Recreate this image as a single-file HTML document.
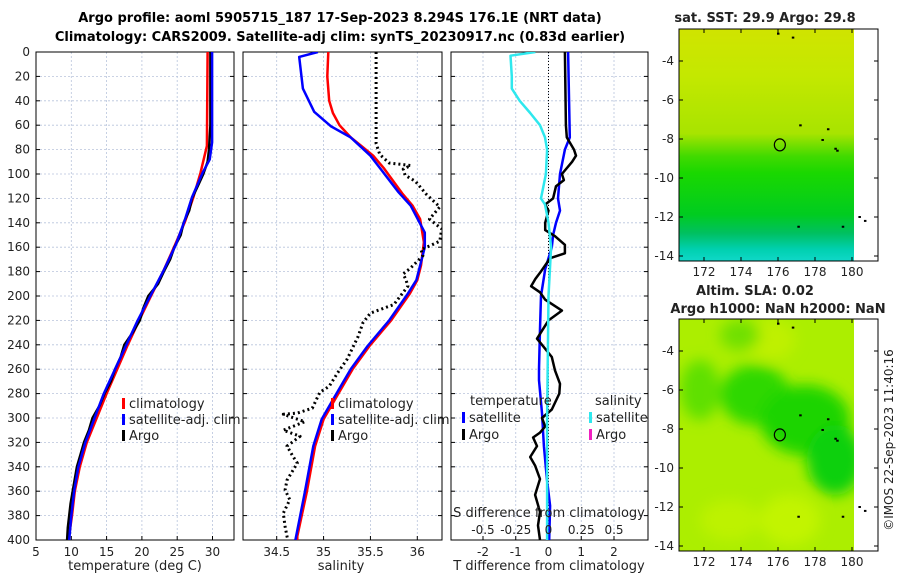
<!DOCTYPE html>
<html><head><meta charset="utf-8"><style>
body{margin:0;background:#fff;}
svg{display:block;font-family:"DejaVu Sans","Liberation Sans",sans-serif;}
</style></head><body>
<svg id="c" width="900" height="580" viewBox="0 0 900 580">
<defs>
<linearGradient id="sstg" x1="0" y1="0" x2="0" y2="1">
<stop offset="0" stop-color="#d0e400"/><stop offset="0.2" stop-color="#c4e800"/>
<stop offset="0.45" stop-color="#a8e400"/><stop offset="0.55" stop-color="#40da00"/>
<stop offset="0.62" stop-color="#1ad800"/><stop offset="0.8" stop-color="#00cc20"/>
<stop offset="0.88" stop-color="#00c060"/><stop offset="0.95" stop-color="#00d0b0"/>
<stop offset="1" stop-color="#10d8c8"/></linearGradient>
<filter id="bl" x="-50%" y="-50%" width="200%" height="200%"><feGaussianBlur stdDeviation="7"/></filter>
<clipPath id="m1c"><rect x="679" y="29" width="175" height="232"/></clipPath>
<clipPath id="m2c"><rect x="679" y="319" width="175" height="232"/></clipPath>
</defs>
<text x="340" y="22" text-anchor="middle" font-size="13" font-weight="bold">Argo profile: aoml 5905715_187 17-Sep-2023 8.294S 176.1E (NRT data)</text>
<text x="340" y="41" text-anchor="middle" font-size="13" font-weight="bold">Climatology: CARS2009. Satellite-adj clim: synTS_20230917.nc (0.83d earlier)</text>
<g id="g"></g>
<text transform="translate(893,440) rotate(-90)" text-anchor="middle" font-size="12" fill="#222">©IMOS 22-Sep-2023 11:40:16</text>
</svg>
<script>
const tClimDepths=[0,77,99,119,139,158,180,201,220,240,260,280,300,320,340,360,380,400];
const tClim=[29.3,29.2,28.3,27.3,26.1,24.7,23.0,21.2,19.6,18.0,16.5,15.0,13.6,12.2,11.2,10.5,10.1,9.6];
const tSatDepths=[0,74,88,99,119,139,158,180,201,220,240,260,280,300,320,340,360,380,400];
const tSat=[29.95,29.95,29.6,28.6,27.1,26.0,24.8,23.0,21.1,19.4,17.8,16.2,14.6,13.3,12.0,11.0,10.4,10.0,9.7];
const tArgoDepths=[0,60,80,90,100,110,120,130,140,150,160,170,180,190,200,210,220,230,240,250,260,270,280,290,300,310,320,330,340,350,360,370,380,390,400];
const tArgo=[29.7,29.7,29.5,29.3,28.7,27.9,27.1,26.7,25.9,25.5,24.6,24.0,23.1,22.3,20.9,20.2,19.7,18.7,17.5,17.0,16.2,15.6,14.7,14.0,13.0,12.5,11.8,11.3,10.8,10.5,10.2,9.9,9.7,9.5,9.4];
const sClimDepths=[0,20,40,50,60,70,78,85,95,116,126,137,156,175,187,198,220,241,260,285,301,323,361,397,400];
const sClim=[35.05,35.04,35.06,35.1,35.17,35.29,35.42,35.53,35.64,35.84,35.95,36.03,36.07,36.04,36.0,35.92,35.72,35.49,35.31,35.12,35.0,34.91,34.82,34.72,34.72];
const sSatDepths=[0,4,30,49,61,70,85,115,126,148,160,175,187,198,220,241,260,285,301,323,361,400];
const sSat=[34.94,34.74,34.78,34.9,35.08,35.29,35.5,35.8,35.93,36.08,36.08,36.03,35.99,35.9,35.7,35.47,35.29,35.1,34.98,34.89,34.8,34.7];
const sArgoDepths=[0,75,84,91,93,96,101,106,117,127,137,145,155,159,162,167,177,182,187,192,207,214,222,233,252,263,274,279,292,296,297,303,310,315,323,331,337,351,359,367,378,389,397,400];
const sArgo=[35.56,35.56,35.6,35.7,35.93,35.85,35.87,35.98,36.1,36.24,36.13,36.26,36.24,36.13,36.04,36.06,35.93,35.85,35.88,35.9,35.75,35.5,35.42,35.37,35.25,35.15,35.06,34.96,34.88,34.72,34.57,34.8,34.57,34.75,34.61,34.67,34.72,34.61,34.59,34.64,34.57,34.59,34.61,34.62];
const dTSatDepths=[0,70,80,100,120,130,140,150,160,178,200,227,260,269,296,323,350,372,400];
const dTSat=[0.6,0.65,0.5,0.35,0.29,0.35,0.23,0.14,0.1,-0.1,-0.23,-0.26,-0.29,-0.29,-0.2,-0.14,-0.05,0.05,0.02];
const dTArgoDepths=[0,60,70,80,85,90,100,105,110,120,125,130,140,146,151,158,165,169,181,186,192,197,203,212,220,226,235,239,250,261,272,280,293,300,307,312,316,323,332,339,350,363,377,388,400];
const dTArgo=[0.5,0.53,0.56,0.78,0.84,0.72,0.41,0.47,0.23,0.14,-0.1,0,-0.1,-0.1,0.2,0.5,0.5,0.05,-0.26,-0.4,-0.53,-0.26,-0.1,0.41,0,-0.14,-0.35,-0.23,0.1,0.2,0.35,0.33,0.1,-0.2,-0.1,-0.26,-0.47,-0.35,-0.56,-0.41,-0.26,-0.41,-0.26,-0.32,-0.26];
const dSSatDepths=[0,3,20,30,40,50,60,70,80,100,120,125,140,160,200,300,400];
const dSSat=[-0.10,-0.29,-0.28,-0.28,-0.22,-0.14,-0.065,-0.027,-0.011,-0.02,-0.057,-0.027,0,0.02,0,-0.011,-0.011];
const depthTicks=[0,20,40,60,80,100,120,140,160,180,200,220,240,260,280,300,320,340,360,380,400];
const tTicks=[5,10,15,20,25,30];
const sTicks=[34.5,35,35.5,36];
const dTTicks=[-2,-1,0,1,2];
const dSTicks=[-0.5,-0.25,0,0.25,0.5];
const lonTicks=[172,174,176,178,180];
const latTicks=[-4,-6,-8,-10,-12,-14];
const argoPos=[176.1,-8.3];
const islands=[[176.0,-2.6],[176.8,-2.8],[177.2,-7.3],[178.7,-7.5],[178.4,-8.05],[179.1,-8.5],[179.2,-8.6],[177.1,-12.5],[179.5,-12.5],[180.4,-12.0],[180.7,-12.2]];

const NS='http://www.w3.org/2000/svg';
const G=document.getElementById('g');
function el(t,a,p){const e=document.createElementNS(NS,t);for(const k in a)e.setAttribute(k,a[k]);(p||G).appendChild(e);return e;}
function txt(x,y,s,a){const e=el('text',Object.assign({x:x,y:y,'font-size':12,fill:'#222'},a||{}));e.textContent=s;return e;}
const Y0=52,Y1=540;
const yD=d=>Y0+(d/400)*(Y1-Y0);
function lin(d0,d1,p0,p1){return v=>p0+(v-d0)/(d1-d0)*(p1-p0);}
const P1={x0:36,x1:234},P2={x0:243,x1:442},P3={x0:451,x1:648};
const xT=lin(5,30,36,212.5), xS=lin(34.5,36,276.7,417.3), xDT=lin(-2,2,483,614), xDS=v=>xDT(v*4);

function frame(P,name,xt,xf,labels){
  const f=el('g',{});
  
  
  xt.forEach(v=>{const x=xf(v);
    const gl=el('line',{x1:x,x2:x,y1:Y0,y2:Y1,stroke:'#b8c4dc','stroke-width':0.8,'stroke-dasharray':'2,2'},f);
    
    el('line',{x1:x,x2:x,y1:Y1,y2:Y1-4,stroke:'#000'},f);
    if(labels){const t=txt(x,556,String(v),{'text-anchor':'middle'});f.appendChild(t);}
  });
  depthTicks.forEach(d=>{const y=yD(d);
    const gl=el('line',{x1:P.x0,x2:P.x1,y1:y,y2:y,stroke:'#b8c4dc','stroke-width':0.8,'stroke-dasharray':'2,2'},f);
    
    el('line',{x1:P.x0,x2:P.x0+4,y1:y,y2:y,stroke:'#000'},f);
    el('line',{x1:P.x1,x2:P.x1-4,y1:y,y2:y,stroke:'#000'},f);
  });
  el('rect',{x:P.x0,y:Y0,width:P.x1-P.x0,height:Y1-Y0,fill:'none',stroke:'#000','stroke-width':1},f);
}
function line(ds,vs,xf,attrs,name){
  const p=el('polyline',Object.assign({points:ds.map((d,i)=>xf(vs[i]).toFixed(1)+','+yD(d).toFixed(1)).join(' '),fill:'none','stroke-linejoin':'round'},attrs));
  
  
  return p;
}
function clipped(P,id){const c=el('clipPath',{id:id});el('rect',{x:P.x0,y:Y0,width:P.x1-P.x0,height:Y1-Y0},c);}
clipped(P1,'cp1');clipped(P2,'cp2');clipped(P3,'cp3');

// panel 1
frame(P1,'temperature-panel',tTicks,xT,true);
depthTicks.forEach(d=>{const t=txt(30,yD(d)+4,String(d),{'text-anchor':'end'});});
line(tClimDepths,tClim,xT,{stroke:'#f00','stroke-width':2.5,'clip-path':'url(#cp1)'},'temperature-climatology-line');
line(tArgoDepths,tArgo,xT,{stroke:'#000','stroke-width':2.5,'clip-path':'url(#cp1)'},'temperature-argo-line');
line(tSatDepths,tSat,xT,{stroke:'#00f','stroke-width':2.5,'clip-path':'url(#cp1)'},'temperature-satellite-line');
{const t=txt(135,570,'temperature (deg C)',{'text-anchor':'middle','font-size':13});}

// panel 2
frame(P2,'salinity-panel',sTicks,xS,true);
line(sClimDepths,sClim,xS,{stroke:'#f00','stroke-width':2.5,'clip-path':'url(#cp2)'},'salinity-climatology-line');
line(sSatDepths,sSat,xS,{stroke:'#00f','stroke-width':2.5,'clip-path':'url(#cp2)'},'salinity-satellite-line');
line(sArgoDepths,sArgo,xS,{stroke:'#000','stroke-width':3,'stroke-dasharray':'2,3','clip-path':'url(#cp2)'},'salinity-argo-line');
{const t=txt(341,570,'salinity',{'text-anchor':'middle','font-size':13});}

// panel 3
frame(P3,'difference-panel',dTTicks,xDT,true);
{const z=el('line',{x1:xDT(0),x2:xDT(0),y1:Y0,y2:Y1,stroke:'#000','stroke-width':1,'stroke-dasharray':'1,2'});}
line(dTSatDepths,dTSat,xDT,{stroke:'#00f','stroke-width':2.5,'clip-path':'url(#cp3)'},'temp-diff-satellite-line');
line(dTArgoDepths,dTArgo,xDT,{stroke:'#000','stroke-width':2.5,'clip-path':'url(#cp3)'},'temp-diff-argo-line');
line(dSSatDepths,dSSat,xDS,{stroke:'#2ee8ee','stroke-width':2.5,'clip-path':'url(#cp3)'},'sal-diff-satellite-line');
dSTicks.forEach(v=>{const t=txt(xDS(v),534,String(v),{'text-anchor':'middle'});});
{const t=txt(549,517,'S difference from climatology',{'text-anchor':'middle','font-size':13});}
{const t=txt(549,570,'T difference from climatology',{'text-anchor':'middle','font-size':13});}

// legends
function legend(x,y,color,label,name){
  const g=el('g',{});
  
  
  el('rect',{x:x,y:y-10,width:3,height:11,fill:color},g);
  const t=txt(x+7,y,label,{'font-size':13});g.appendChild(t);
}
legend(122,408,'#f00','climatology','legend-temp-climatology');
legend(122,424,'#00f','satellite-adj. clim','legend-temp-satellite');
legend(122,440,'#000','Argo','legend-temp-argo');
legend(331,408,'#f00','climatology','legend-sal-climatology');
legend(331,424,'#00f','satellite-adj. clim','legend-sal-satellite');
legend(331,440,'#000','Argo','legend-sal-argo');
{const t=txt(470,405,'temperature',{'font-size':13});}
{const t=txt(595,405,'salinity',{'font-size':13});}
legend(462,422,'#00f','satellite','legend-tdiff-satellite');
legend(462,439,'#000','Argo','legend-tdiff-argo');
legend(589,422,'#2ee8ee','satellite','legend-sdiff-satellite');
legend(589,439,'#f020c0','Argo','legend-sdiff-argo');

// maps
const mx=lin(172,180,704,852), myF=off=>lin(-4,-14,61+off,256+off);
function map(off,name,fill){
  const g=el('g',{});
  
  
  const my=myF(off);
  fill(g,my);
  islands.forEach(p=>{const r=el('rect',{x:mx(p[0])-1,y:my(p[1])-1,width:2.5,height:2,fill:'#000'},g);});
  const c=el('ellipse',{cx:mx(argoPos[0]),cy:my(argoPos[1]),rx:5.5,ry:6,fill:'none',stroke:'#000','stroke-width':1.2},g);
  
  el('rect',{x:679,y:29+off,width:199,height:232,fill:'none',stroke:'#000'},g);
  lonTicks.forEach(v=>{const x=mx(v);el('line',{x1:x,x2:x,y1:261+off,y2:257+off,stroke:'#000'},g);el('line',{x1:x,x2:x,y1:29+off,y2:33+off,stroke:'#000'},g);
    const t=txt(x,276+off,String(v),{'text-anchor':'middle'});g.appendChild(t);});
  latTicks.forEach(v=>{const y=my(v);el('line',{x1:679,x2:683,y1:y,y2:y,stroke:'#000'},g);el('line',{x1:878,x2:874,y1:y,y2:y,stroke:'#000'},g);
    const t=txt(674,y+4,String(v),{'text-anchor':'end'});g.appendChild(t);});
}
map(0,'sst-map',(g,my)=>{
  el('rect',{x:679,y:29,width:175,height:232,fill:'url(#sstg)'},g);
});
map(290,'sla-map',(g,my)=>{
  const gg=el('g',{'clip-path':'url(#m2c)'},g);
  el('rect',{x:679,y:319,width:175,height:232,fill:'#acee00'},gg);
  const b=el('g',{filter:'url(#bl)'},gg);
  el('ellipse',{cx:755,cy:395,rx:35,ry:30,fill:'#2ed800'},b);
  el('ellipse',{cx:805,cy:420,rx:45,ry:35,fill:'#1ad400'},b);
  el('ellipse',{cx:835,cy:460,rx:28,ry:35,fill:'#10d010'},b);
  el('ellipse',{cx:700,cy:390,rx:20,ry:30,fill:'#5ee000'},b);
  el('ellipse',{cx:730,cy:520,rx:30,ry:20,fill:'#bdf200'},b);
  el('ellipse',{cx:790,cy:520,rx:30,ry:25,fill:'#c2f400'},b);
  el('ellipse',{cx:770,cy:340,rx:25,ry:20,fill:'#bff000'},b);
  el('ellipse',{cx:740,cy:335,rx:20,ry:15,fill:'#70e000'},b);
});
{const t=txt(765,22,'sat. SST: 29.9 Argo: 29.8',{'text-anchor':'middle','font-size':13,'font-weight':'bold'});}
{const t=txt(755,295,'Altim. SLA: 0.02',{'text-anchor':'middle','font-size':13,'font-weight':'bold'});}
{const t=txt(778,313,'Argo h1000: NaN h2000: NaN',{'text-anchor':'middle','font-size':13,'font-weight':'bold'});}
</script>
</body></html>
